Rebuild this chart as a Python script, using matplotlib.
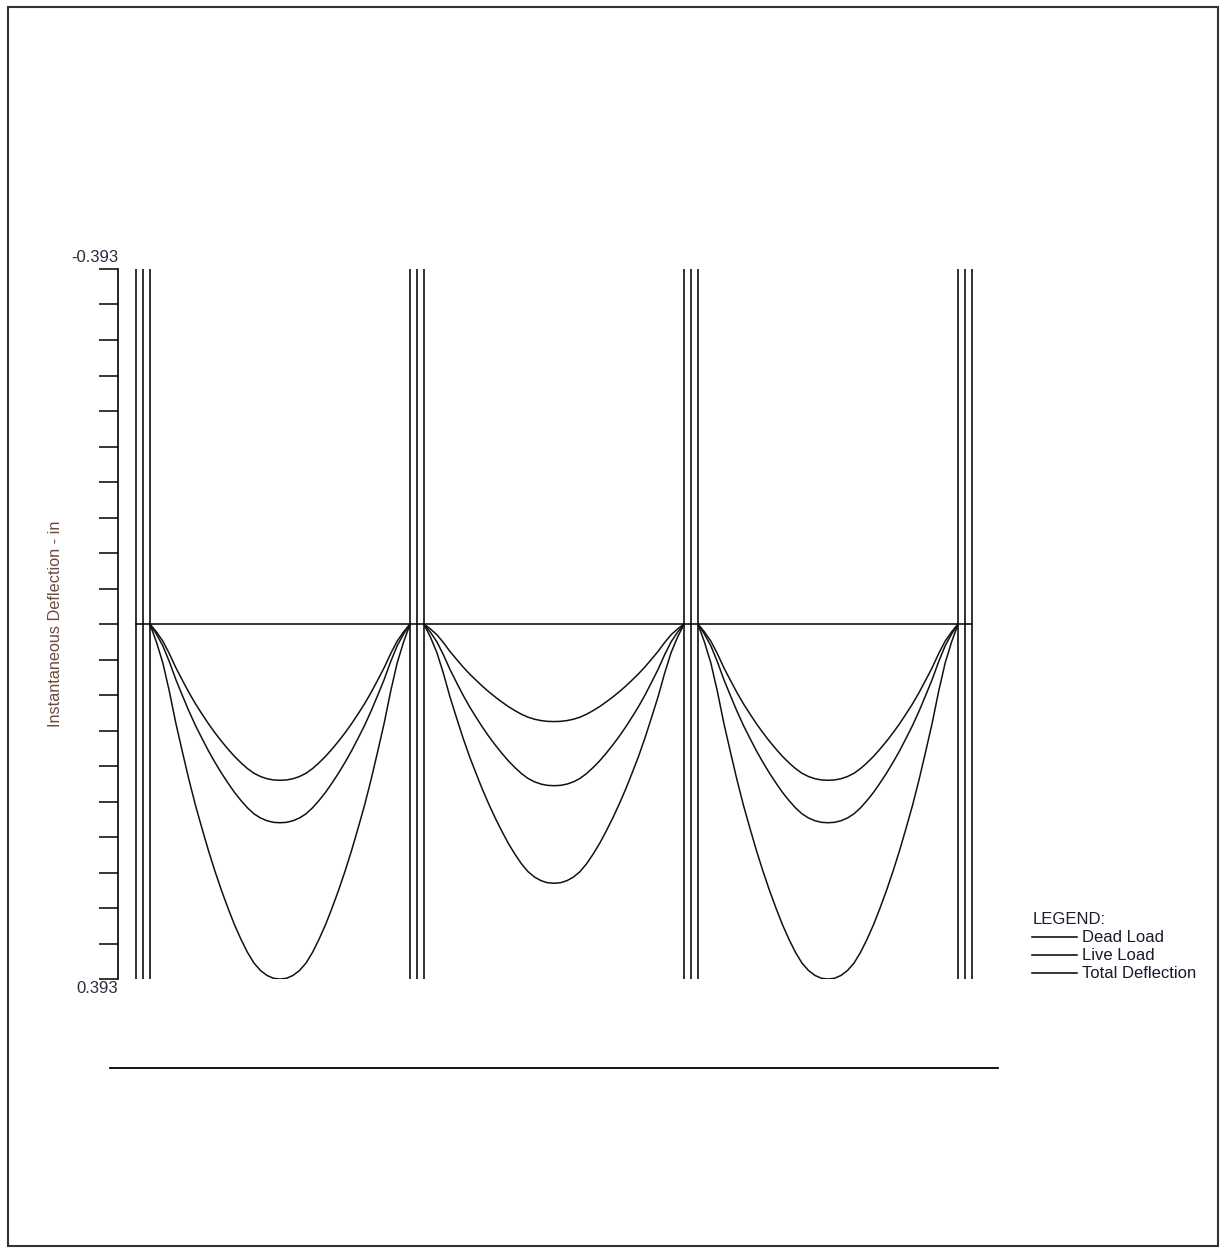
import numpy as np
import matplotlib.pyplot as plt
from matplotlib.lines import Line2D
from matplotlib.patches import Rectangle

plt.rcParams['font.family'] = ['Liberation Sans', 'DejaVu Sans']

# Support locations (ft) and half-width of the triple support lines
supports = [0.0, 20.0, 40.0, 60.0]
support_offset = 0.5

# Peak deflections per span (in)
dead_load = [0.173, 0.108, 0.173]
live_load = [0.220, 0.179, 0.220]
total_defl = [0.393, 0.287, 0.393]

# Deflected shape along a span (fraction of span -> fraction of peak)
stations = [0.0, 0.025, 0.05, 0.075, 0.10, 0.125, 0.15, 0.175, 0.20, 0.225, 0.25,
            0.275, 0.30, 0.325, 0.35, 0.375, 0.40, 0.425, 0.45, 0.475, 0.50,
            0.525, 0.55, 0.575, 0.60, 0.625, 0.65, 0.675, 0.70, 0.725, 0.75,
            0.775, 0.80, 0.825, 0.85, 0.875, 0.90, 0.925, 0.95, 0.975, 1.0]
shape = [0.0, 0.05, 0.11, 0.19, 0.28, 0.36, 0.438, 0.51, 0.575, 0.638, 0.696,
         0.750, 0.800, 0.847, 0.888, 0.925, 0.955, 0.976, 0.99, 0.998, 1.0,
         0.998, 0.99, 0.976, 0.955, 0.925, 0.888, 0.847, 0.800, 0.750, 0.696,
         0.638, 0.575, 0.51, 0.438, 0.36, 0.28, 0.19, 0.11, 0.05, 0.0]

y_limit = 0.393
legend_labels = ['Dead Load', 'Live Load', 'Total Deflection']

W, H = 1226, 1253


def fx(px):
    return px / W


def fy(py):
    return 1 - py / H


fig = plt.figure(figsize=(W / 100, H / 100), dpi=100)

# page border
fig.add_artist(Rectangle((fx(8), fy(1246)), fx(1218) - fx(8), fy(7) - fy(1246),
                         fill=False, lw=1.5, ec='#333333', transform=fig.transFigure))

ax = fig.add_axes([fx(118), fy(979), fx(1000) - fx(118), fy(269) - fy(979)])
ax.patch.set_visible(False)
px_per_ft = (965 - 143) / (supports[-1] - supports[0])
ax.set_xlim(supports[0] - 25 / px_per_ft, supports[0] + (1000 - 143) / px_per_ft)
ax.set_ylim(y_limit, -y_limit)

for side in ['top', 'right', 'bottom']:
    ax.spines[side].set_visible(False)
ax.spines['left'].set_linewidth(1.2)
ax.set_xticks([])
ax.set_yticks(np.linspace(-y_limit, y_limit, 21))
ax.set_yticklabels([])
ax.tick_params(axis='y', length=13.7, width=1.1, direction='out')

# support lines
for s in supports:
    for off in (-support_offset, 0.0, support_offset):
        ax.vlines(s + off, -y_limit, y_limit, color='#222222', lw=1.3)

# zero line
ax.plot([supports[0] - support_offset, supports[-1] + support_offset], [0, 0],
        color='black', lw=1.1)

# deflection curves
st = np.array(stations)
sh = np.array(shape)
for i in range(len(supports) - 1):
    x0 = supports[i] + support_offset
    x1 = supports[i + 1] - support_offset
    xs = x0 + st * (x1 - x0)
    for peak in (dead_load[i], live_load[i], total_defl[i]):
        ax.plot(xs, peak * sh, color='#111111', lw=1.1, solid_joinstyle='round')

# end labels of the y axis
ax.annotate(f'-{y_limit:.3f}', xy=(0, -y_limit), xycoords=('axes fraction', 'data'),
            xytext=(0, 3), textcoords='offset points', ha='right', va='bottom',
            fontsize=12, color='#2a2a40')
ax.annotate(f'{y_limit:.3f}', xy=(0, y_limit), xycoords=('axes fraction', 'data'),
            xytext=(0, -1.5), textcoords='offset points', ha='right', va='top',
            fontsize=12, color='#2a2a40')

fig.text(fx(56), fy(624), 'Instantaneous Deflection - in', rotation=90,
         ha='center', va='center', fontsize=11.7, color='#6e4a3c')

# beam line below the chart
fig.add_artist(Line2D([fx(110), fx(998)], [fy(1068), fy(1068)], color='black', lw=1.3))

# legend
fig.text(fx(1033), fy(920), 'LEGEND:', ha='left', va='center', fontsize=12, color='#1a1a2a')
for k, lab in enumerate(legend_labels):
    yy = fy(937 + 18 * k)
    fig.add_artist(Line2D([fx(1032), fx(1077)], [yy, yy], color='black', lw=1.1))
    fig.text(fx(1082), yy, lab, ha='left', va='center', fontsize=12, color='#1a1a2a')

fig.savefig('out.png', dpi=100)
